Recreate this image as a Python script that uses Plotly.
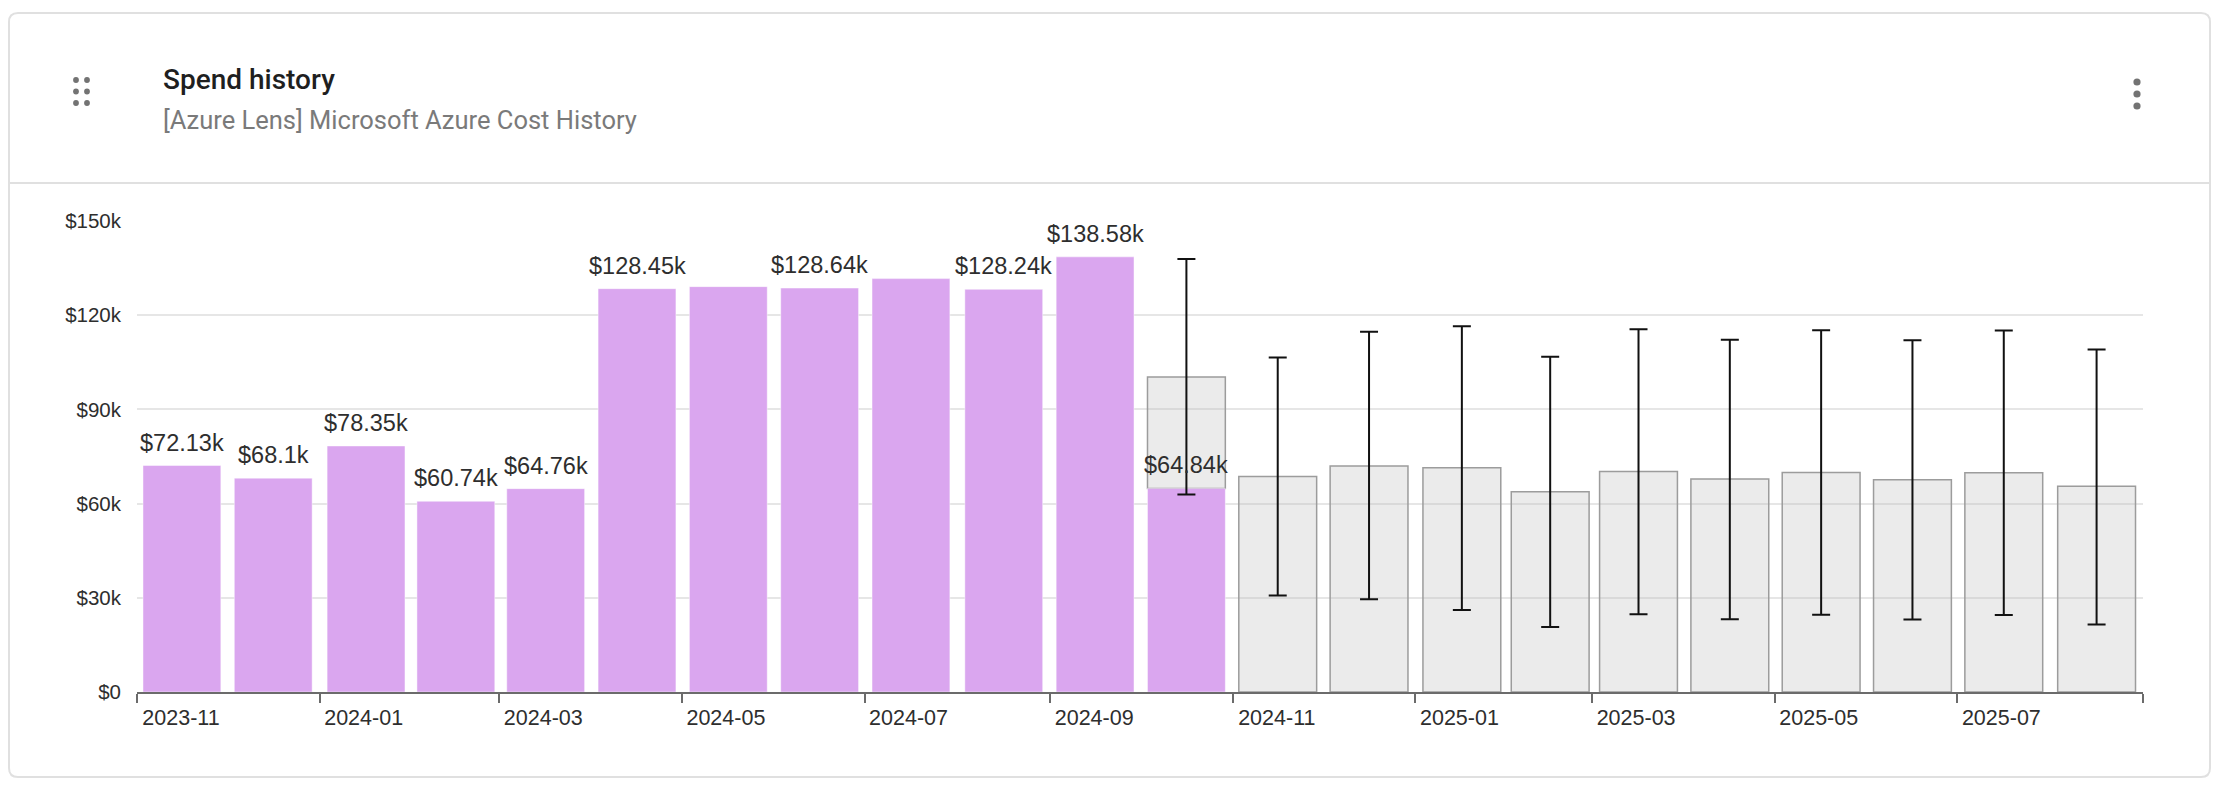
import plotly.graph_objects as go
import pandas as pd

# ---------------- data ----------------
actual_months = ["2023-11", "2023-12", "2024-01", "2024-02", "2024-03", "2024-04",
                 "2024-05", "2024-06", "2024-07", "2024-08", "2024-09", "2024-10"]
actual_cost = [72130, 68100, 78350, 60740, 64760, 128450,
               129100, 128640, 131650, 128240, 138580, 64840]
labeled_months = ["2023-11", "2023-12", "2024-01", "2024-02", "2024-03", "2024-04",
                  "2024-06", "2024-08", "2024-09", "2024-10"]

forecast_months = ["2024-10", "2024-11", "2024-12", "2025-01", "2025-02", "2025-03",
                   "2025-04", "2025-05", "2025-06", "2025-07", "2025-08"]
forecast_cost = [100350, 68600, 72000, 71400, 63800, 70200, 67800, 69900, 67600, 69800, 65500]
forecast_low = [62900, 30700, 29500, 26100, 20700, 24800, 23200, 24600, 23100, 24500, 21500]
forecast_high = [137900, 106500, 114700, 116500, 106800, 115500, 112200, 115200, 112000, 115100, 109100]

tick_months = ["2023-11", "2024-01", "2024-03", "2024-05", "2024-07", "2024-09",
               "2024-11", "2025-01", "2025-03", "2025-05", "2025-07", "2025-09"]
tick_labels = ["2023-11", "2024-01", "2024-03", "2024-05", "2024-07", "2024-09",
               "2024-11", "2025-01", "2025-03", "2025-05", "2025-07", ""]
y_ticks = [0, 30000, 60000, 90000, 120000, 150000]
y_tick_labels = ["$0", "$30k", "$60k", "$90k", "$120k", "$150k"]

title = "Spend history"
subtitle = "[Azure Lens] Microsoft Azure Cost History"

# ---------------- layout geometry ----------------
OFF = 8                      # default page body margin
W, H = 2220 - 2 * OFF, 786 - 2 * OFF
ML, MR, MT, MB = 137 - OFF, 69, 221 - OFF, 86
PW, PH = W - ML - MR, H - MT - MB


def fx(px):  # page pixel -> paper
    return (px - OFF - ML) / PW


def fy(py):  # page pixel (from top) -> paper
    return (H - MB - (py - OFF)) / PH


PURPLE = "#DAA6EF"
TEXT = "#2e2e2e"
FONT = "Liberation Sans, Arial, sans-serif"
BAR_W = 26 * 86400000  # bar width in ms

actual_map = dict(zip(actual_months, actual_cost))
forecast_base = [actual_map.get(m, 0) for m in forecast_months]
forecast_len = [t - b for t, b in zip(forecast_cost, forecast_base)]
err_plus = [h - t for h, t in zip(forecast_high, forecast_cost)]
err_minus = [t - l for t, l in zip(forecast_cost, forecast_low)]


def mid_month(m):
    s = pd.Period(m, "M").start_time
    e = (pd.Period(m, "M") + 1).start_time
    return (s + (e - s) / 2).strftime("%Y-%m-%d %H:%M:%S")


def fmt(v):
    s = f"{v / 1000:.2f}".rstrip("0").rstrip(".")
    return f"${s}k"


fig = go.Figure()

fig.add_trace(go.Bar(
    x=forecast_months, y=forecast_len, base=forecast_base,
    xperiod="M1", xperiodalignment="middle", width=BAR_W,
    marker=dict(color="rgba(190,190,190,0.3)", line=dict(color="#9c9c9c", width=1.5)),
    hoverinfo="skip", showlegend=False,
))

fig.add_trace(go.Bar(
    x=actual_months, y=actual_cost,
    xperiod="M1", xperiodalignment="middle", width=BAR_W,
    marker=dict(color=PURPLE, line=dict(color="rgba(255,255,255,0.45)", width=1)),
    hoverinfo="skip", showlegend=False,
))

fig.add_trace(go.Scatter(
    x=forecast_months, y=forecast_cost, mode="markers",
    xperiod="M1", xperiodalignment="middle",
    marker=dict(size=1, opacity=0),
    error_y=dict(type="data", symmetric=False, array=err_plus, arrayminus=err_minus,
                 color="#111111", thickness=2, width=9),
    hoverinfo="skip", showlegend=False,
))

annotations = []
for m, v in zip(actual_months, actual_cost):
    if m in labeled_months:
        annotations.append(dict(
            x=mid_month(m), y=v, xref="x", yref="y", text=fmt(v), showarrow=False,
            xanchor="center", yanchor="bottom", yshift=8,
            font=dict(family=FONT, size=23.5, color=TEXT),
        ))

annotations.append(dict(
    x=fx(161), y=fy(79), xref="paper", yref="paper", text=title, showarrow=False,
    xanchor="left", yanchor="middle",
    font=dict(family="Roboto, sans-serif", size=28, color="#1f1f1f", weight=500),
))
annotations.append(dict(
    x=fx(161), y=fy(120.5), xref="paper", yref="paper", text=subtitle, showarrow=False,
    xanchor="left", yanchor="middle",
    font=dict(family="Roboto, sans-serif", size=25.5, color="#7a7a7a"),
))

# card shapes
shapes = []
x0, y0, x1, y1, r = 9, 13, 2210, 777, 9
path = (f"M {fx(x0 + r)},{fy(y0)} L {fx(x1 - r)},{fy(y0)} Q {fx(x1)},{fy(y0)} {fx(x1)},{fy(y0 + r)} "
        f"L {fx(x1)},{fy(y1 - r)} Q {fx(x1)},{fy(y1)} {fx(x1 - r)},{fy(y1)} "
        f"L {fx(x0 + r)},{fy(y1)} Q {fx(x0)},{fy(y1)} {fx(x0)},{fy(y1 - r)} "
        f"L {fx(x0)},{fy(y0 + r)} Q {fx(x0)},{fy(y0)} {fx(x0 + r)},{fy(y0)} Z")
shapes.append(dict(type="path", path=path, xref="paper", yref="paper",
                   line=dict(color="#e0e0e0", width=2), layer="below"))
shapes.append(dict(type="line", xref="paper", yref="paper",
                   x0=fx(x0), x1=fx(x1), y0=fy(183), y1=fy(183),
                   line=dict(color="#e0e0e0", width=2)))


def dot(cx, cy, rad, color="#737373"):
    return dict(type="circle", xref="paper", yref="paper",
                x0=fx(cx - rad), x1=fx(cx + rad), y0=fy(cy + rad), y1=fy(cy - rad),
                fillcolor=color, line=dict(width=0))


for cxp in (76, 87):
    for cyp in (80, 91.5, 103):
        shapes.append(dot(cxp, cyp, 2.9))
for cyp in (82, 94, 106):
    shapes.append(dot(2137, cyp, 3.6))

fig.update_layout(
    width=W, height=H, autosize=False,
    margin=dict(l=ML, r=MR, t=MT, b=MB, pad=0),
    paper_bgcolor="white", plot_bgcolor="white",
    barmode="overlay", bargap=0.14,
    font=dict(family=FONT, color=TEXT),
    annotations=annotations, shapes=shapes,
    xaxis=dict(
        type="date", range=["2023-11-01", "2025-09-01"],
        tickmode="array", tickvals=tick_months, ticktext=tick_labels,
        ticks="outside", ticklen=9, tickwidth=2, tickcolor="#6b6b6b",
        showline=True, linecolor="#6b6b6b", linewidth=2,
        showgrid=False, zeroline=False,
        ticklabelshift=44, ticklabelstandoff=-4,
        tickfont=dict(family=FONT, size=21.5, color=TEXT),
        fixedrange=True,
    ),
    yaxis=dict(
        range=[0, 150000], tickmode="array", tickvals=y_ticks, ticktext=y_tick_labels,
        showgrid=True, gridcolor="#e6e6e6", gridwidth=2,
        zeroline=False, showline=False, ticks="",
        ticklabelstandoff=15,
        tickfont=dict(family=FONT, size=20.5, color=TEXT),
        fixedrange=True,
    ),
)

fig.write_html("out.html", config={"displayModeBar": False})
